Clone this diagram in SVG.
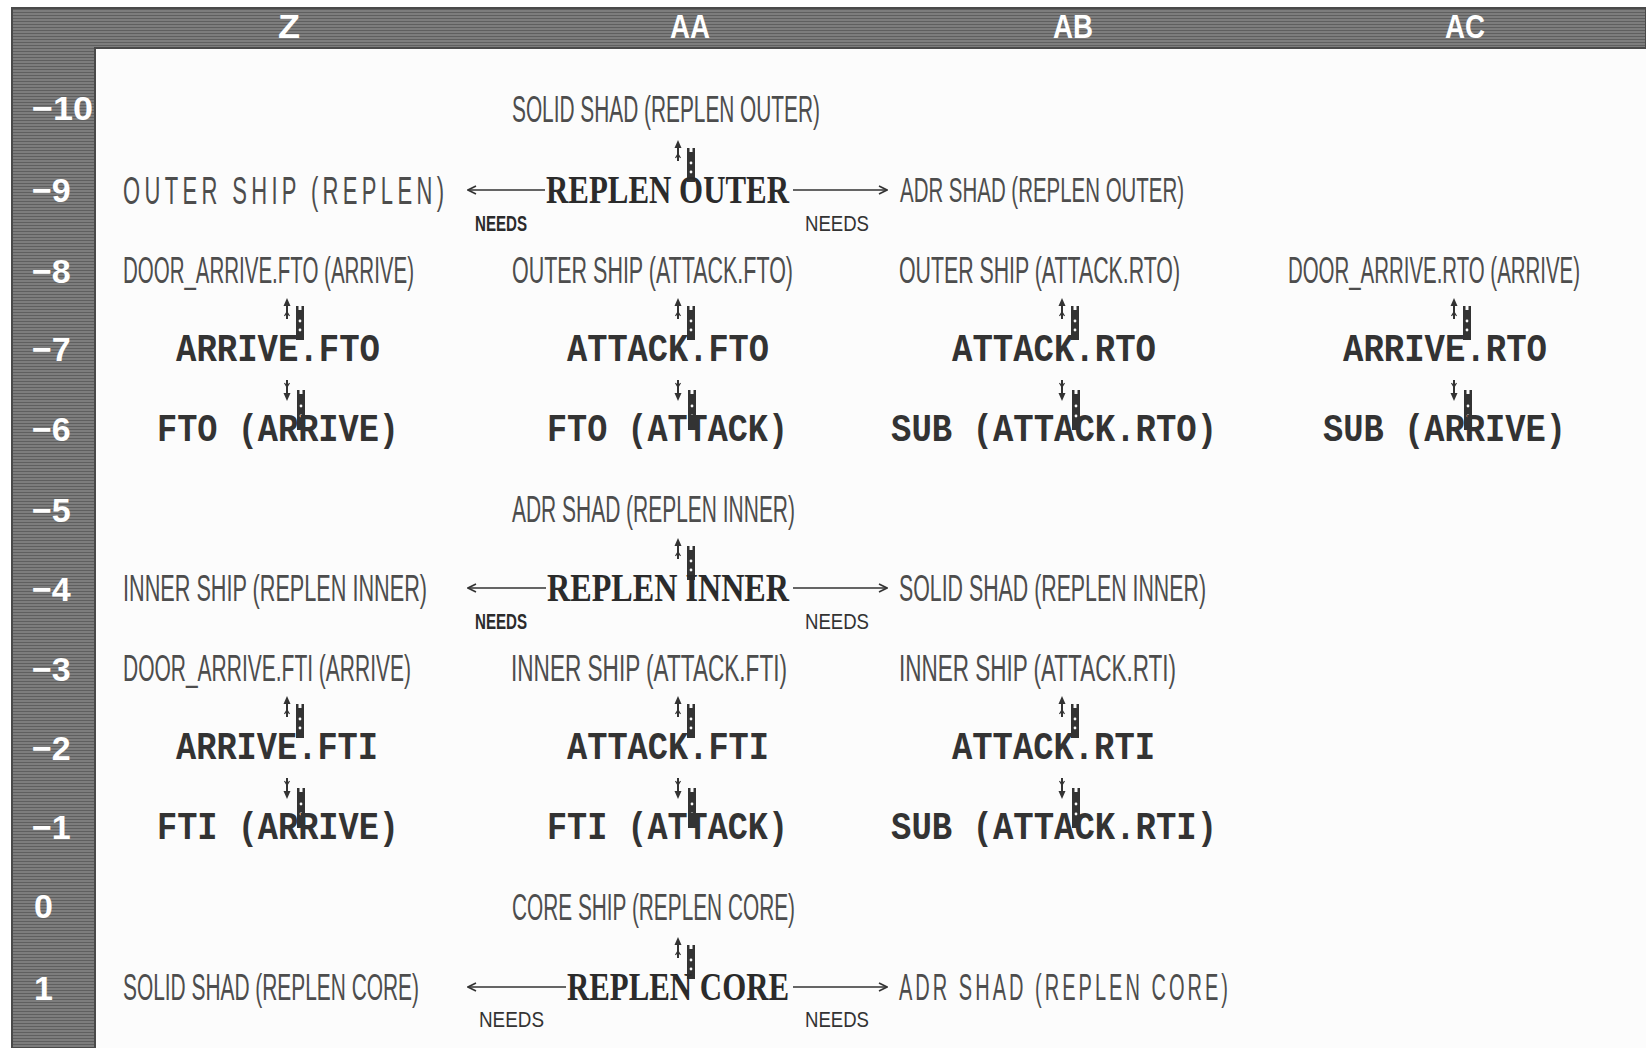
<svg xmlns="http://www.w3.org/2000/svg" xmlns:xlink="http://www.w3.org/1999/xlink" width="1646" height="1048" viewBox="0 0 1646 1048">
<style>
.t{font-family:"Liberation Sans","DejaVu Sans",sans-serif;font-size:20px;fill:#4d4d4d}
.b{font-family:"Liberation Serif","DejaVu Serif",serif;font-weight:bold;font-size:40px;fill:#2b2b2b}
.m{font-family:"Liberation Mono","DejaVu Sans Mono",monospace;font-weight:bold;font-size:38px;fill:#333}
.n{font-family:"Liberation Sans","DejaVu Sans",sans-serif;font-size:22px;fill:#333}
.nb{font-family:"Liberation Sans","DejaVu Sans",sans-serif;font-weight:bold;font-size:22px;fill:#2b2b2b}
.ax{font-family:"Liberation Sans","DejaVu Sans",sans-serif;font-weight:bold;font-size:34px;fill:#fff}
.ln{stroke:#333;stroke-width:1.6;fill:none}
</style>
<defs>
<pattern id="scan" width="6" height="3" patternUnits="userSpaceOnUse">
<rect width="6" height="3" fill="#7d7d7d"/>
<rect width="6" height="1" fill="#5f5f5f"/>
</pattern>
<marker id="ah" viewBox="0 0 10 10" refX="9" refY="5" markerWidth="10" markerHeight="10" markerUnits="userSpaceOnUse" orient="auto">
<path d="M1,1 L9,5 L1,9" fill="none" stroke="#333" stroke-width="1.6"/>
</marker>
<g id="mkup">
<line x1="0" y1="-43" x2="0" y2="-29" stroke="#333" stroke-width="2"/>
<path d="M0,-50 L-3.5,-42 L3.5,-42 Z" fill="#333"/>
<path d="M-2.5,-32 L0,-36 L2.5,-32" fill="none" stroke="#333" stroke-width="1.2"/>
<path d="M9,-42 h8 v34 h-8 Z" fill="#333"/>
<rect x="11.5" y="-42" width="3" height="4" fill="#fcfcfc"/>
<circle cx="13" cy="-27" r="1.4" fill="#fcfcfc"/>
<circle cx="13" cy="-18" r="1.4" fill="#fcfcfc"/>
</g>
<g id="mkdn">
<line x1="0" y1="-48" x2="0" y2="-34" stroke="#333" stroke-width="2"/>
<path d="M0,-27 L-3.5,-35 L3.5,-35 Z" fill="#333"/>
<path d="M-2.5,-45 L0,-41 L2.5,-45" fill="none" stroke="#333" stroke-width="1.2"/>
<path d="M10,-38 h8 v40 h-8 Z" fill="#333"/>
<rect x="12.5" y="-38" width="3" height="4" fill="#fcfcfc"/>
<circle cx="14" cy="-22" r="1.4" fill="#fcfcfc"/>
<circle cx="14" cy="-12" r="1.4" fill="#fcfcfc"/>
</g>
</defs>
<rect width="1646" height="1048" fill="#ffffff"/>
<rect x="95" y="48" width="1551" height="1000" fill="#fcfcfc"/>
<g id="frame">
<path d="M12,8 H1646 V48 H95 V1048 H12 Z" fill="url(#scan)" stroke="#4a4a4a" stroke-width="2"/>
<text class="ax" x="289" y="38" text-anchor="middle" textLength="22" lengthAdjust="spacingAndGlyphs">Z</text>
<text class="ax" x="690" y="38" text-anchor="middle" textLength="40" lengthAdjust="spacingAndGlyphs">AA</text>
<text class="ax" x="1073" y="38" text-anchor="middle" textLength="40" lengthAdjust="spacingAndGlyphs">AB</text>
<text class="ax" x="1465" y="38" text-anchor="middle" textLength="40" lengthAdjust="spacingAndGlyphs">AC</text>
<text class="ax" x="32" y="120" textLength="61" lengthAdjust="spacingAndGlyphs">−10</text>
<text class="ax" x="32" y="202">−9</text>
<text class="ax" x="32" y="283">−8</text>
<text class="ax" x="32" y="361">−7</text>
<text class="ax" x="32" y="441">−6</text>
<text class="ax" x="32" y="522">−5</text>
<text class="ax" x="32" y="601">−4</text>
<text class="ax" x="32" y="681">−3</text>
<text class="ax" x="32" y="760">−2</text>
<text class="ax" x="32" y="839">−1</text>
<text class="ax" x="34" y="918">0</text>
<text class="ax" x="34" y="1000">1</text>
</g>
<g id="connectors">
<line class="ln" x1="545" y1="190" x2="468" y2="190" marker-end="url(#ah)"/>
<line class="ln" x1="793" y1="190" x2="887" y2="190" marker-end="url(#ah)"/>
<line class="ln" x1="546" y1="588" x2="468" y2="588" marker-end="url(#ah)"/>
<line class="ln" x1="793" y1="588" x2="887" y2="588" marker-end="url(#ah)"/>
<line class="ln" x1="566" y1="987" x2="468" y2="987" marker-end="url(#ah)"/>
<line class="ln" x1="793" y1="987" x2="887" y2="987" marker-end="url(#ah)"/>
<text class="nb" x="475" y="231" textLength="52" lengthAdjust="spacingAndGlyphs">NEEDS</text>
<text class="n" x="805" y="231" textLength="64" lengthAdjust="spacingAndGlyphs">NEEDS</text>
<text class="nb" x="475" y="629" textLength="52" lengthAdjust="spacingAndGlyphs">NEEDS</text>
<text class="n" x="805" y="629" textLength="64" lengthAdjust="spacingAndGlyphs">NEEDS</text>
<text class="n" x="479" y="1027" textLength="65" lengthAdjust="spacingAndGlyphs">NEEDS</text>
<text class="n" x="805" y="1027" textLength="64" lengthAdjust="spacingAndGlyphs">NEEDS</text>
<use xlink:href="#mkup" x="678" y="190"/>
<use xlink:href="#mkup" x="287" y="348"/>
<use xlink:href="#mkup" x="678" y="348"/>
<use xlink:href="#mkup" x="1062" y="348"/>
<use xlink:href="#mkup" x="1454" y="348"/>
<use xlink:href="#mkdn" x="287" y="428"/>
<use xlink:href="#mkdn" x="678" y="428"/>
<use xlink:href="#mkdn" x="1062" y="428"/>
<use xlink:href="#mkdn" x="1454" y="428"/>
<use xlink:href="#mkup" x="678" y="588"/>
<use xlink:href="#mkup" x="287" y="746"/>
<use xlink:href="#mkup" x="678" y="746"/>
<use xlink:href="#mkup" x="1062" y="746"/>
<use xlink:href="#mkdn" x="287" y="826"/>
<use xlink:href="#mkdn" x="678" y="826"/>
<use xlink:href="#mkdn" x="1062" y="826"/>
<use xlink:href="#mkup" x="678" y="987"/>
</g>
<g id="solid-shad-replen-outer"><text class="t" x="512" y="122" transform="translate(512 122) scale(1 1.8) translate(-512 -122)" textLength="308" lengthAdjust="spacingAndGlyphs">SOLID SHAD (REPLEN OUTER)</text></g>
<g id="outer-ship-replen"><text class="t" x="123" y="204" style="font-size:22px" transform="translate(123 204) scale(1 1.78) translate(-123 -204)" textLength="321">OUTER SHIP (REPLEN)</text></g>
<g id="replen-outer"><text class="b" x="546" y="203" textLength="243" lengthAdjust="spacingAndGlyphs">REPLEN OUTER</text></g>
<g id="adr-shad-replen-outer"><text class="t" x="900" y="202" transform="translate(900 202) scale(1 1.72) translate(-900 -202)" textLength="284" lengthAdjust="spacingAndGlyphs">ADR SHAD (REPLEN OUTER)</text></g>
<g id="door-arrive-fto"><text class="t" x="123" y="283" transform="translate(123 283) scale(1 1.8) translate(-123 -283)" textLength="291" lengthAdjust="spacingAndGlyphs">DOOR_ARRIVE.FTO (ARRIVE)</text></g>
<g id="outer-ship-attack-fto"><text class="t" x="512" y="283" transform="translate(512 283) scale(1 1.8) translate(-512 -283)" textLength="281" lengthAdjust="spacingAndGlyphs">OUTER SHIP (ATTACK.FTO)</text></g>
<g id="outer-ship-attack-rto"><text class="t" x="899" y="283" transform="translate(899 283) scale(1 1.8) translate(-899 -283)" textLength="281" lengthAdjust="spacingAndGlyphs">OUTER SHIP (ATTACK.RTO)</text></g>
<g id="door-arrive-rto"><text class="t" x="1288" y="283" transform="translate(1288 283) scale(1 1.8) translate(-1288 -283)" textLength="292" lengthAdjust="spacingAndGlyphs">DOOR_ARRIVE.RTO (ARRIVE)</text></g>
<g id="arrive-fto"><text class="m" x="176" y="361" textLength="204" lengthAdjust="spacingAndGlyphs">ARRIVE.FTO</text></g>
<g id="attack-fto"><text class="m" x="567" y="361" textLength="202" lengthAdjust="spacingAndGlyphs">ATTACK.FTO</text></g>
<g id="attack-rto"><text class="m" x="952" y="361" textLength="204" lengthAdjust="spacingAndGlyphs">ATTACK.RTO</text></g>
<g id="arrive-rto"><text class="m" x="1343" y="361" textLength="204" lengthAdjust="spacingAndGlyphs">ARRIVE.RTO</text></g>
<g id="fto-arrive"><text class="m" x="157" y="441" textLength="242" lengthAdjust="spacingAndGlyphs">FTO (ARRIVE)</text></g>
<g id="fto-attack"><text class="m" x="547" y="441" textLength="241" lengthAdjust="spacingAndGlyphs">FTO (ATTACK)</text></g>
<g id="sub-attack-rto"><text class="m" x="891" y="441" textLength="326" lengthAdjust="spacingAndGlyphs">SUB (ATTACK.RTO)</text></g>
<g id="sub-arrive"><text class="m" x="1323" y="441" textLength="243" lengthAdjust="spacingAndGlyphs">SUB (ARRIVE)</text></g>
<g id="adr-shad-replen-inner"><text class="t" x="512" y="522" transform="translate(512 522) scale(1 1.8) translate(-512 -522)" textLength="283" lengthAdjust="spacingAndGlyphs">ADR SHAD (REPLEN INNER)</text></g>
<g id="inner-ship-replen-inner"><text class="t" x="123" y="601" transform="translate(123 601) scale(1 1.8) translate(-123 -601)" textLength="304" lengthAdjust="spacingAndGlyphs">INNER SHIP (REPLEN INNER)</text></g>
<g id="replen-inner"><text class="b" x="547" y="601" textLength="242" lengthAdjust="spacingAndGlyphs">REPLEN INNER</text></g>
<g id="solid-shad-replen-inner"><text class="t" x="899" y="601" transform="translate(899 601) scale(1 1.8) translate(-899 -601)" textLength="307" lengthAdjust="spacingAndGlyphs">SOLID SHAD (REPLEN INNER)</text></g>
<g id="door-arrive-fti"><text class="t" x="123" y="681" transform="translate(123 681) scale(1 1.8) translate(-123 -681)" textLength="288" lengthAdjust="spacingAndGlyphs">DOOR_ARRIVE.FTI (ARRIVE)</text></g>
<g id="inner-ship-attack-fti"><text class="t" x="511" y="681" transform="translate(511 681) scale(1 1.8) translate(-511 -681)" textLength="276" lengthAdjust="spacingAndGlyphs">INNER SHIP (ATTACK.FTI)</text></g>
<g id="inner-ship-attack-rti"><text class="t" x="899" y="681" transform="translate(899 681) scale(1 1.8) translate(-899 -681)" textLength="277" lengthAdjust="spacingAndGlyphs">INNER SHIP (ATTACK.RTI)</text></g>
<g id="arrive-fti"><text class="m" x="176" y="759" textLength="202" lengthAdjust="spacingAndGlyphs">ARRIVE.FTI</text></g>
<g id="attack-fti"><text class="m" x="567" y="759" textLength="202" lengthAdjust="spacingAndGlyphs">ATTACK.FTI</text></g>
<g id="attack-rti"><text class="m" x="952" y="759" textLength="203" lengthAdjust="spacingAndGlyphs">ATTACK.RTI</text></g>
<g id="fti-arrive"><text class="m" x="157" y="839" textLength="242" lengthAdjust="spacingAndGlyphs">FTI (ARRIVE)</text></g>
<g id="fti-attack"><text class="m" x="547" y="839" textLength="241" lengthAdjust="spacingAndGlyphs">FTI (ATTACK)</text></g>
<g id="sub-attack-rti"><text class="m" x="891" y="839" textLength="326" lengthAdjust="spacingAndGlyphs">SUB (ATTACK.RTI)</text></g>
<g id="core-ship-replen-core"><text class="t" x="512" y="920" transform="translate(512 920) scale(1 1.8) translate(-512 -920)" textLength="283" lengthAdjust="spacingAndGlyphs">CORE SHIP (REPLEN CORE)</text></g>
<g id="solid-shad-replen-core"><text class="t" x="123" y="1000" transform="translate(123 1000) scale(1 1.8) translate(-123 -1000)" textLength="296" lengthAdjust="spacingAndGlyphs">SOLID SHAD (REPLEN CORE)</text></g>
<g id="replen-core"><text class="b" x="567" y="1000" textLength="222" lengthAdjust="spacingAndGlyphs">REPLEN CORE</text></g>
<g id="adr-shad-replen-core"><text class="t" x="899" y="1000" transform="translate(899 1000) scale(1 1.8) translate(-899 -1000)" textLength="329">ADR SHAD (REPLEN CORE)</text></g>
</svg>
